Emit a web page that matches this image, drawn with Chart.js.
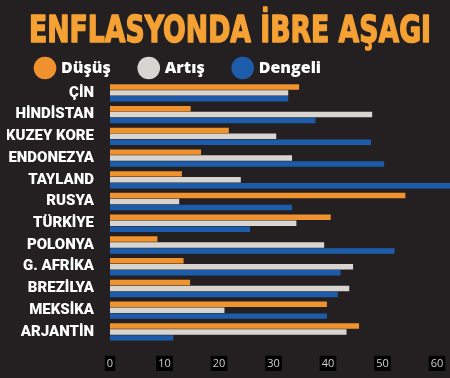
<!DOCTYPE html>
<html>
<head>
<meta charset="utf-8">
<script src="https://cdn.jsdelivr.net/npm/chart.js@4"></script>
<style>
  html, body { margin: 0; padding: 0; background: #242021; }
  #wrap { position: relative; width: 450px; height: 378px; }
</style>
</head>
<body>
<div id="wrap"><canvas id="c" width="450" height="378"></canvas></div>
<script>
const title = 'ENFLASYONDA İBRE AŞAGI';
const categories = ['ÇİN', 'HİNDİSTAN', 'KUZEY KORE', 'ENDONEZYA', 'TAYLAND', 'RUSYA', 'TÜRKİYE', 'POLONYA', 'G. AFRİKA', 'BREZİLYA', 'MEKSİKA', 'ARJANTİN'];
const seriesNames = ['Düşüş', 'Artış', 'Dengeli'];
const dusus   = [34.7, 14.8, 21.8, 16.7, 13.2, 54.2, 40.5, 8.7, 13.5, 14.7, 39.8, 45.7];
const artis   = [32.7, 48.1, 30.5, 33.4, 24.0, 12.7, 34.2, 39.3, 44.6, 43.9, 21.0, 43.4];
const dengeli = [32.7, 37.7, 47.9, 50.3, 63.0, 33.4, 25.7, 52.2, 42.3, 41.8, 39.8, 11.6];
const xTicks  = [0, 10, 20, 30, 40, 50, 60];

const colors = ['#f0922e', '#d8d5d1', '#1d5cab'];

const titlePlugin = {
  id: 'bigTitle',
  afterDraw(chart) {
    const ctx = chart.ctx;
    ctx.save();
    ctx.font = 'bold 37px "DejaVu Sans", sans-serif';
    ctx.fillStyle = '#f5a133';
    ctx.strokeStyle = '#f5a133';
    ctx.lineWidth = 1.6;
    ctx.lineJoin = 'round';
    ctx.textBaseline = 'alphabetic';
    const w = ctx.measureText(title).width;
    const target = 402;
    const sx = target / w;
    ctx.translate(29, 42);
    ctx.scale(sx, 1);
    ctx.fillText(title, 0, 0);
    ctx.strokeText(title, 0, 0);
    ctx.restore();
  }
};

new Chart(document.getElementById('c'), {
  type: 'bar',
  data: {
    labels: categories,
    datasets: [
      { label: seriesNames[0], data: dusus, backgroundColor: colors[0], clip: false },
      { label: seriesNames[1], data: artis, backgroundColor: colors[1], clip: false },
      { label: seriesNames[2], data: dengeli, backgroundColor: colors[2], clip: false }
    ]
  },
  options: {
    indexAxis: 'y',
    responsive: false,
    animation: false,
    devicePixelRatio: 1,
    layout: { padding: { top: 30, left: 7, right: 13, bottom: 2 } },
    datasets: { bar: { categoryPercentage: 0.82, barPercentage: 0.92 } },
    plugins: {
      title: { display: false },
      tooltip: { enabled: false },
      legend: {
        position: 'top',
        align: 'start',
        maxHeight: 52,
        labels: {
          usePointStyle: true,
          pointStyle: 'circle',
          boxWidth: 16,
          boxHeight: 16,
          padding: 30,
          color: '#ffffff',
          font: { family: '"Open Sans", sans-serif', size: 16, weight: 800 }
        }
      }
    },
    scales: {
      x: {
        min: 0,
        max: 60,
        afterBuildTicks(scale) { scale.ticks = xTicks.map(v => ({ value: v })); },
        grid: { display: false },
        border: { display: false },
        ticks: {
          color: '#cfcfcf',
          padding: 6,
          font: { family: '"Open Sans", sans-serif', size: 11 },
          showLabelBackdrop: true,
          backdropColor: '#000000',
          backdropPadding: { top: 1, bottom: 1, left: 2, right: 2 }
        }
      },
      y: {
        afterFit(scale) { scale.width = 103; },
        grid: { display: false },
        border: { display: false },
        ticks: {
          color: '#ffffff',
          padding: 8,
          autoSkip: false,
          font: { family: 'Roboto, sans-serif', size: 15, weight: 900 }
        }
      }
    }
  },
  plugins: [titlePlugin]
});
</script>
</body>
</html>
